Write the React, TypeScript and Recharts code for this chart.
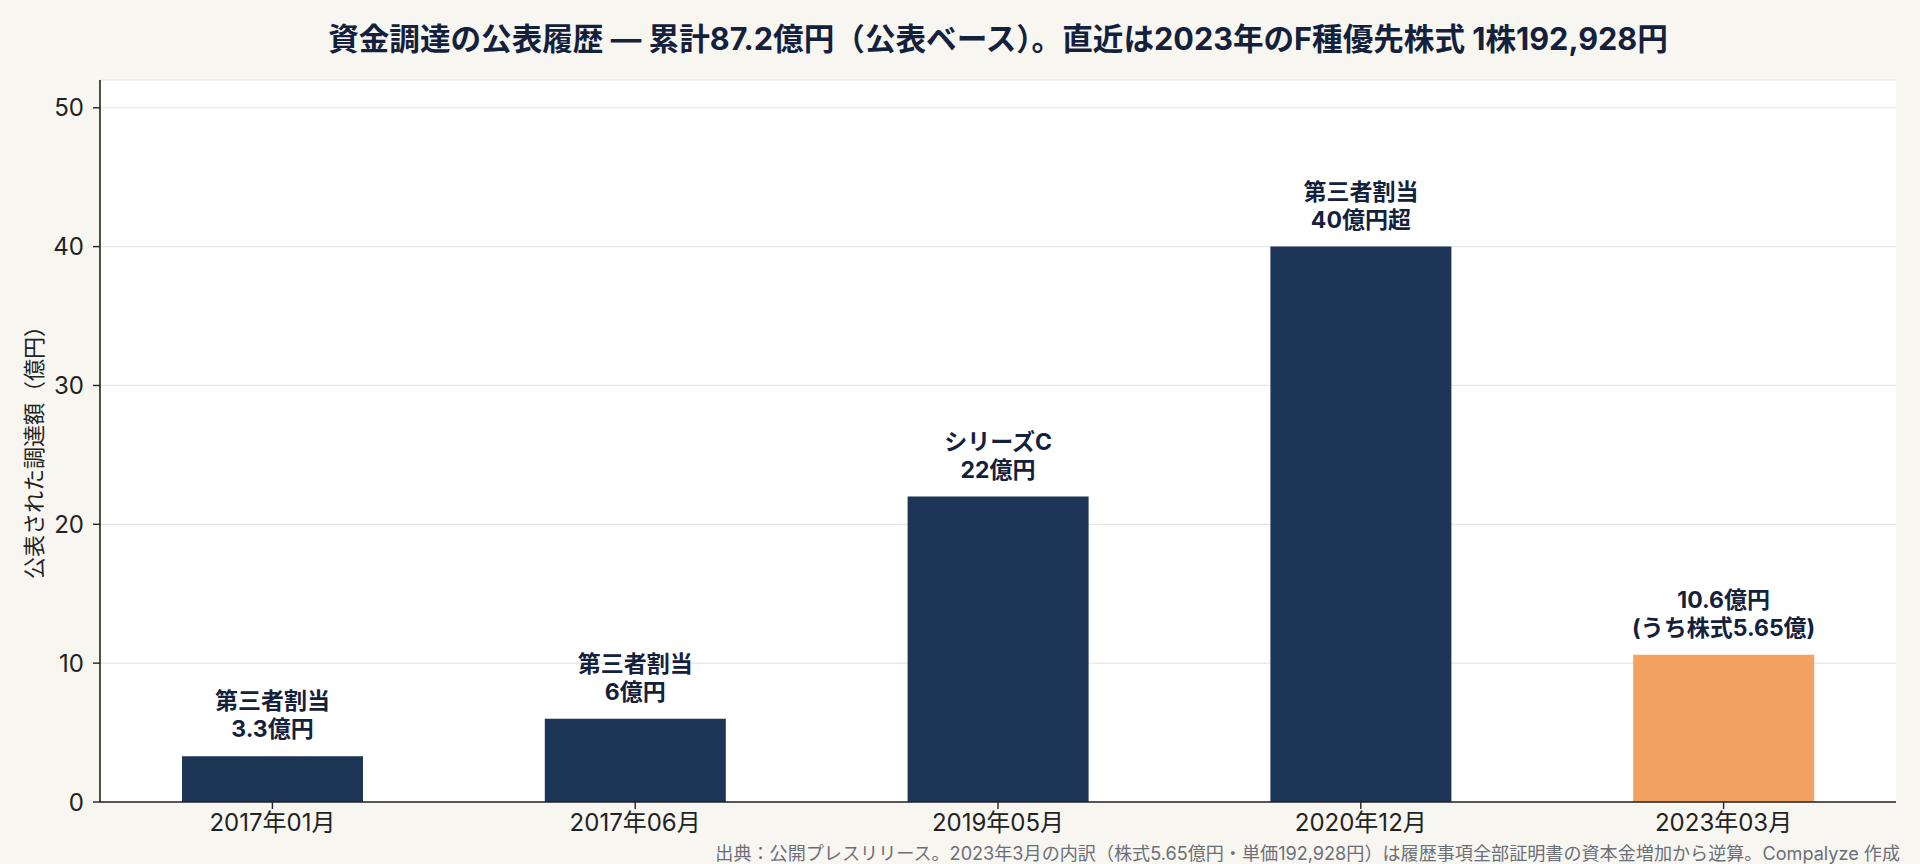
import { BarChart, Bar, XAxis, YAxis, CartesianGrid, LabelList, Cell, Label } from 'recharts';

// 公表された資金調達ラウンド（億円）
const periods = ['2017年01月', '2017年06月', '2019年05月', '2020年12月', '2023年03月'];
const amounts = [3.3, 6, 22, 40, 10.6];
const roundNames = ['第三者割当', '第三者割当', 'シリーズC', '第三者割当', '10.6億円'];
const amountTexts = ['3.3億円', '6億円', '22億円', '40億円超', '(うち株式5.65億)'];
const highlighted = [false, false, false, false, true];
const yTicks = [0, 10, 20, 30, 40, 50];

const FONT = 'Inter, "Noto Sans CJK JP", sans-serif';
const NAVY = '#1d3557';
const ORANGE = '#f4a261';
const INK = '#14213d';

const data = periods.map((period, i) => ({
  period,
  amount: amounts[i],
}));

const BarLabel = (props: any) => {
  const { x, y, width, index } = props;
  const cx = x + width / 2;
  return (
    <text x={cx} textAnchor="middle" fontFamily={FONT} fontSize={23} fontWeight={700} fill={INK}>
      <tspan x={cx} y={y - 47}>{roundNames[index]}</tspan>
      <tspan x={cx} y={y - 19}>{amountTexts[index]}</tspan>
    </text>
  );
};

const YLabel = (props: any) => {
  const { viewBox } = props;
  const x = viewBox.x + 34;
  const y = viewBox.y + viewBox.height / 2 + 6;
  return (
    <text
      x={x}
      y={y}
      transform={`rotate(-90, ${x}, ${y})`}
      textAnchor="middle"
      dominantBaseline="central"
      fontFamily={FONT}
      fontSize={22}
      fill="#222"
    >
      公表された調達額（億円）
    </text>
  );
};

export default function App() {
  return (
    <div
      style={{
        position: 'fixed',
        left: 0,
        top: 0,
        width: 1920,
        height: 864,
        background: '#f8f6f0',
        fontFamily: FONT,
      }}
    >
      <div
        style={{
          position: 'absolute',
          left: 100,
          width: 1796,
          top: 23,
          lineHeight: '32px',
          fontSize: 30.6,
          fontWeight: 700,
          color: INK,
          textAlign: 'center',
          whiteSpace: 'nowrap',
        }}
      >
        資金調達の公表履歴 — 累計87.2億円（公表ベース）。直近は2023年のF種優先株式 1株192,928円
      </div>
      <div style={{ position: 'absolute', left: 100, top: 80, width: 1796, height: 722, background: '#fff' }} />
      <div style={{ position: 'absolute', left: 0, top: 0 }}>
        <BarChart
          width={1920}
          height={864}
          data={data}
          margin={{ top: 80, right: 24, bottom: 32, left: 0 }}
        >
          <CartesianGrid vertical={false} stroke="#e6e6e6" strokeWidth={1.2} />
          <XAxis
            dataKey="period"
            height={30}
            padding={{ left: -9, right: -9 }}
            axisLine={{ stroke: '#222', strokeWidth: 1.6 }}
            tickLine={{ stroke: '#222', strokeWidth: 1.4 }}
            tickSize={7}
            tickMargin={5}
            tick={{ fontFamily: FONT, fontSize: 24, fill: '#222' }}
            interval={0}
          />
          <YAxis
            width={100}
            domain={[0, 52]}
            ticks={yTicks}
            allowDataOverflow
            axisLine={{ stroke: '#222', strokeWidth: 1.6 }}
            tickLine={{ stroke: '#222', strokeWidth: 1.4 }}
            tickSize={7}
            tickMargin={9}
            tick={{ fontFamily: FONT, fontSize: 24, fill: '#222' }}
          >
            <Label content={<YLabel />} />
          </YAxis>
          <Bar dataKey="amount" barSize={181} isAnimationActive={false}>
            {data.map((d, i) => (
              <Cell key={d.period} fill={highlighted[i] ? ORANGE : NAVY} />
            ))}
            <LabelList dataKey="amount" content={<BarLabel />} />
          </Bar>
        </BarChart>
      </div>
      <div
        style={{
          position: 'absolute',
          right: 20,
          top: 843,
          lineHeight: '20px',
          fontSize: 18.1,
          color: '#6b6f78',
          whiteSpace: 'nowrap',
        }}
      >
        出典：公開プレスリリース。2023年3月の内訳（株式5.65億円・単価192,928円）は履歴事項全部証明書の資本金増加から逆算。Compalyze 作成
      </div>
    </div>
  );
}
